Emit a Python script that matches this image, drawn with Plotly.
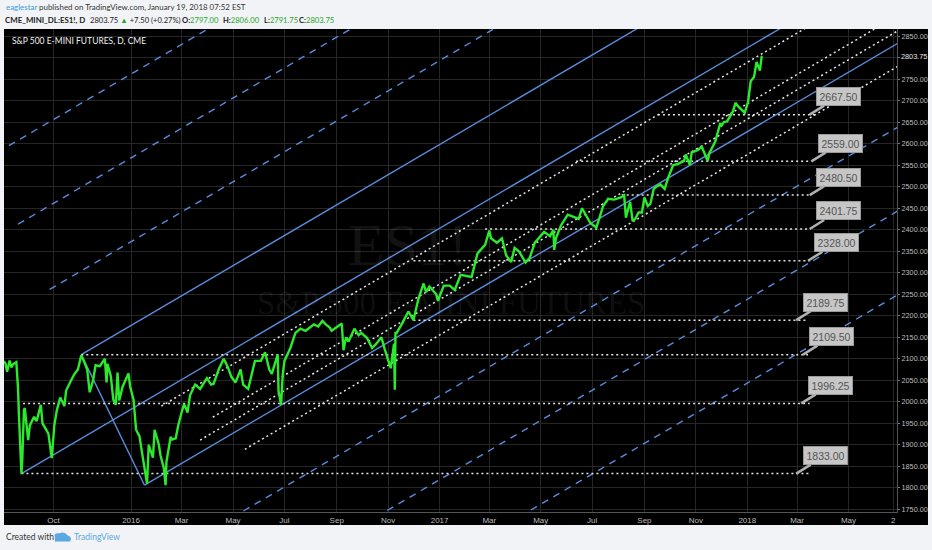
import pandas as pd
import plotly.graph_objects as go

# --- ES1! daily path (about two points a week) ---
price_dates = [
    "2015-08-03", "2015-08-05", "2015-08-07", "2015-08-10", "2015-08-12", "2015-08-14",
    "2015-08-18", "2015-08-19", "2015-08-20", "2015-08-21", "2015-08-24", "2015-08-25",
    "2015-08-26", "2015-08-27", "2015-08-28", "2015-09-01", "2015-09-03", "2015-09-08",
    "2015-09-11", "2015-09-16", "2015-09-18", "2015-09-22", "2015-09-25", "2015-09-29",
    "2015-10-02", "2015-10-05", "2015-10-09", "2015-10-14", "2015-10-16", "2015-10-22",
    "2015-10-26", "2015-10-30", "2015-11-03", "2015-11-06", "2015-11-10", "2015-11-13",
    "2015-11-17", "2015-11-20", "2015-11-25", "2015-12-01", "2015-12-03", "2015-12-04",
    "2015-12-08", "2015-12-11", "2015-12-14", "2015-12-16", "2015-12-18", "2015-12-22",
    "2015-12-29", "2015-12-31", "2016-01-04", "2016-01-07", "2016-01-11", "2016-01-15",
    "2016-01-20", "2016-01-22", "2016-01-27", "2016-01-29", "2016-02-03", "2016-02-05",
    "2016-02-09", "2016-02-11", "2016-02-12", "2016-02-17", "2016-02-19", "2016-02-23",
    "2016-02-26", "2016-03-01", "2016-03-04", "2016-03-08", "2016-03-11", "2016-03-17",
    "2016-03-23", "2016-03-31", "2016-04-05", "2016-04-08", "2016-04-14", "2016-04-20",
    "2016-04-25", "2016-04-29", "2016-05-04", "2016-05-10", "2016-05-13", "2016-05-19",
    "2016-05-24", "2016-05-27", "2016-06-03", "2016-06-08", "2016-06-13", "2016-06-16",
    "2016-06-23", "2016-06-24", "2016-06-27", "2016-06-29", "2016-07-01", "2016-07-08",
    "2016-07-14", "2016-07-20", "2016-07-26", "2016-07-29", "2016-08-05", "2016-08-10",
    "2016-08-15", "2016-08-19", "2016-08-24", "2016-08-26", "2016-09-02", "2016-09-07",
    "2016-09-09", "2016-09-12", "2016-09-15", "2016-09-22", "2016-09-27", "2016-09-30",
    "2016-10-07", "2016-10-13", "2016-10-18", "2016-10-24", "2016-10-28", "2016-11-02",
    "2016-11-04", "2016-11-08", "2016-11-08 22:00", "2016-11-09 16:00", "2016-11-11",
    "2016-11-17", "2016-11-25", "2016-12-01", "2016-12-07", "2016-12-13", "2016-12-16",
    "2016-12-20", "2016-12-28", "2016-12-30", "2017-01-06", "2017-01-13", "2017-01-19",
    "2017-01-26", "2017-02-03", "2017-02-08", "2017-02-15", "2017-02-24", "2017-03-01",
    "2017-03-03", "2017-03-10", "2017-03-16", "2017-03-21", "2017-03-27", "2017-03-31",
    "2017-04-05", "2017-04-13", "2017-04-18", "2017-04-24", "2017-04-28", "2017-05-05",
    "2017-05-12", "2017-05-16", "2017-05-17", "2017-05-19", "2017-05-25", "2017-06-02",
    "2017-06-09", "2017-06-15", "2017-06-19", "2017-06-23", "2017-06-29", "2017-07-06",
    "2017-07-14", "2017-07-20", "2017-07-27", "2017-08-04", "2017-08-08", "2017-08-10",
    "2017-08-15", "2017-08-18", "2017-08-21", "2017-08-25", "2017-08-29", "2017-09-01",
    "2017-09-05", "2017-09-08", "2017-09-12", "2017-09-15", "2017-09-20", "2017-09-25",
    "2017-09-29", "2017-10-05", "2017-10-11", "2017-10-18", "2017-10-20", "2017-10-25",
    "2017-10-27", "2017-11-03", "2017-11-08", "2017-11-15", "2017-11-17", "2017-11-24",
    "2017-11-30", "2017-12-01", "2017-12-04", "2017-12-08", "2017-12-15", "2017-12-18",
    "2017-12-22", "2017-12-29", "2018-01-02", "2018-01-05", "2018-01-09", "2018-01-12",
    "2018-01-16", "2018-01-18", "2018-01-19",
]
price_values = [
    2094, 2090, 2070, 2096, 2080, 2087,
    2092, 2070, 2030, 1972, 1833, 1865,
    1930, 1982, 1985, 1911, 1945, 1965,
    1955, 1993, 1950, 1935, 1926, 1869,
    1945, 1980, 2010, 1990, 2026, 2050,
    2065, 2075, 2108, 2095, 2075, 2022,
    2050, 2085, 2083, 2100, 2045, 2088,
    2060, 2005, 1993, 2068, 2003, 2035,
    2066, 2035, 2005, 1935, 1920, 1870,
    1810, 1900, 1870, 1935, 1900, 1875,
    1845, 1806, 1860, 1918, 1912, 1915,
    1945, 1975, 1995, 1975, 2015, 2040,
    2030, 2055, 2040, 2042, 2075, 2100,
    2080, 2058, 2045, 2075, 2040, 2030,
    2070, 2095, 2095, 2115, 2075, 2065,
    2110, 2025, 1993, 2065, 2095, 2125,
    2160, 2170, 2165, 2170, 2180, 2175,
    2188, 2180, 2172, 2165, 2175, 2182,
    2120, 2150, 2140, 2170, 2155, 2160,
    2148, 2125, 2135, 2150, 2122, 2090,
    2078, 2135, 2028, 2160, 2160,
    2180, 2210, 2190, 2240, 2275, 2255,
    2268, 2250, 2235, 2270, 2270, 2260,
    2295, 2292, 2290, 2345, 2365, 2398,
    2380, 2370, 2380, 2340, 2325, 2358,
    2350, 2324, 2335, 2370, 2380, 2395,
    2385, 2400, 2353, 2380, 2410, 2435,
    2430, 2425, 2450, 2435, 2415, 2405,
    2455, 2472, 2470, 2475, 2480, 2428,
    2465, 2420, 2425, 2440, 2440, 2475,
    2455, 2460, 2495, 2500, 2505, 2495,
    2520, 2550, 2553, 2560, 2575, 2550,
    2580, 2585, 2593, 2560, 2578, 2605,
    2648, 2640, 2650, 2652, 2675, 2695,
    2685, 2672, 2698, 2745, 2755, 2790,
    2770, 2802, 2803.75,
]

# header quote
symbol = "CME_MINI_DL:ES1!, D"
last_price = 2803.75
quote_change = "+7.50 (+0.27%)"
quote_ohlc = [("O", "2797.00"), ("H", "2806.00"), ("L", "2791.75"), ("C", "2803.75")]

# Andrews pitchfork anchors (P1, P2, P3) and the levels drawn, in tine widths
fork_dates = ["2015-08-24", "2015-11-03", "2016-01-17"]
fork_prices = [1833.0, 2109.5, 1806.0]
fork_levels = [-4, -3, -2, -1, 0, 1, 2, 3, 4]

# dotted lines drawn parallel to the fork (start point of each)
par_dates = ["2016-02-06", "2016-04-07", "2016-03-23", "2016-05-15"]
par_prices = [1990.0, 1964.0, 1911.0, 1889.5]

# horizontal levels with their callouts
lvl_prices = [2667.50, 2559.00, 2480.50, 2401.75, 2328.00, 2189.75, 2109.50, 1996.25, 1833.00]
lvl_start = ["2017-09-17", "2017-06-12", "2017-08-05", "2017-02-24", "2016-12-01",
             "2016-12-01", "2015-11-03", "2015-08-26", "2015-08-24"]
lvl_end = ["2018-03-26", "2018-03-18", "2018-03-18", "2018-03-16", "2018-03-16",
           "2018-03-14", "2018-03-14", "2018-03-16", "2018-03-15"]
lvl_tip = ["2018-03-16", "2018-03-18", "2018-03-16", "2018-03-16", "2018-03-14",
           "2018-02-28", "2018-03-08", "2018-03-06", "2018-02-28"]

# axes
x_range = ["2015-08-03 08:00", "2018-06-27 14:00"]
x_tick_vals = ["2015-10-01", "2016-01-01", "2016-03-01", "2016-05-01", "2016-07-01",
               "2016-09-01", "2016-11-01", "2017-01-01", "2017-03-01", "2017-05-01",
               "2017-07-01", "2017-09-01", "2017-11-01", "2018-01-01", "2018-03-01",
               "2018-05-01", "2018-06-23"]
x_tick_text = ["Oct", "2016", "Mar", "May", "Jul", "Sep", "Nov", "2017", "Mar", "May",
               "Jul", "Sep", "Nov", "2018", "Mar", "May", "2"]
y_range = [1743.7, 2866.7]
y_tick_vals = [1750, 1800, 1850, 1900, 1950, 2000, 2050, 2100, 2150, 2200, 2250, 2300,
               2350, 2400, 2450, 2500, 2550, 2600, 2650, 2700, 2750, 2800, 2850]

BLUE = "#5a8cdc"
DOTS = "#e6e6e6"
GREEN = "#2bea2b"
AXIS_FONT = "Liberation Sans"
UI_FONT = "Lato"

# ---- pitchfork geometry ----
t0 = pd.Timestamp(fork_dates[0])
day = lambda d: (pd.Timestamp(d) - t0) / pd.Timedelta(days=1)
to_date = lambda d: t0 + pd.to_timedelta(d, unit="D")

p = [(day(d), v) for d, v in zip(fork_dates, fork_prices)]
mid = ((p[1][0] + p[2][0]) / 2, (p[1][1] + p[2][1]) / 2)
slope = (mid[1] - p[0][1]) / (mid[0] - p[0][0])
RUN = 1400  # days each ray is carried to the right; the axis clips it

fig = go.Figure()


def ray(d0, v0, dash, color, width):
    fig.add_trace(go.Scatter(
        x=[to_date(d0), to_date(d0 + RUN)], y=[v0, v0 + slope * RUN],
        mode="lines", line=dict(color=color, width=width, dash=dash),
        hoverinfo="skip", showlegend=False))


for k in fork_levels:
    if k == 0:
        d0, v0 = p[0]
    else:
        ref = p[1] if k > 0 else p[2]
        d0 = mid[0] + abs(k) * (ref[0] - mid[0])
        v0 = mid[1] + abs(k) * (ref[1] - mid[1])
    ray(d0, v0, "solid" if abs(k) <= 1 else "7px,6px", BLUE, 1.4)

# P2 - P3 handle
fig.add_trace(go.Scatter(
    x=fork_dates[1:], y=fork_prices[1:], mode="lines",
    line=dict(color=BLUE, width=1.4), hoverinfo="skip", showlegend=False))

for d, v in zip(par_dates, par_prices):
    ray(day(d), v, "2px,3px", DOTS, 1.5)

for v, s, e in zip(lvl_prices, lvl_start, lvl_end):
    fig.add_trace(go.Scatter(
        x=[s, e], y=[v, v], mode="lines",
        line=dict(color=DOTS, width=1.5, dash="2px,3px"),
        hoverinfo="skip", showlegend=False))

fig.add_trace(go.Scatter(
    x=price_dates, y=price_values, mode="lines",
    line=dict(color=GREEN, width=2.4), name="ES1!", showlegend=False))

# ---- annotations ----
ann = []
g = "#2aa52a"


def px(x):  # pixel column -> paper x
    return (x - 4) / 893


def head(x, y, text, size=8.5, color="#222222"):
    ann.append(dict(xref="paper", yref="paper", x=px(x), y=y, xanchor="left", yanchor="middle",
                    text=text, showarrow=False, font=dict(family=UI_FONT, size=size, color=color)))


head(4, 1.0455, '<span style="color:#3c98dc">eaglestar</span> published on TradingView.com, January 19, 2018 07:52 EST',
     size=7.9, color="#333333")
# second header line, pieces placed where the reference has them
head(3, 1.0186, "<b>%s</b>" % symbol, size=7.9)
head(88, 1.0186, '%.2f <span style="color:%s">▲</span> %s' % (last_price, g, quote_change), size=7.6)
for x0, (k, v) in zip([180, 221, 262, 297], quote_ohlc):
    head(x0, 1.0186, '<b>%s:</b><span style="color:%s">%s</span>' % (k, g, v), size=7.6)
head(10, 0.975, "S&P 500 E-MINI FUTURES, D, CME", color="#f0f0f0")

# watermark
ann.append(dict(xref="paper", yref="paper", x=0.452, y=0.553, text="ES1!", showarrow=False,
                font=dict(family="Liberation Serif", size=60, color="rgba(255,255,255,0.07)")))
ann.append(dict(xref="paper", yref="paper", x=0.5, y=0.433, text="S&P 500 E-MINI FUTURES",
                showarrow=False, font=dict(family="Liberation Serif", size=33, color="rgba(255,255,255,0.07)")))
# callouts
for v, t in zip(lvl_prices, lvl_tip):
    ann.append(dict(x=t, y=v, text="%.2f" % v, showarrow=True, arrowhead=0, arrowwidth=2.5,
                    arrowcolor="#b0b0b0", ax=29, ay=-18, bgcolor="#c6c6c6", bordercolor="#9a9a9a",
                    borderwidth=1, borderpad=2.5, font=dict(family="Liberation Sans", size=10.5, color="#555555")))
# last price on the scale
ann.append(dict(xref="paper", yref="y", x=1.0025, y=last_price, xanchor="left", yanchor="middle",
                text="%.2f" % last_price, showarrow=False,
                font=dict(family=AXIS_FONT, size=7.3, color="#e8e8e8")))
# footer
head(4, -0.052, "Created with", color="#333333")
head(72, -0.052, "TradingView", color="#5aa9e0")

shapes = [
    dict(type="rect", xref="paper", yref="paper", x0=0, x1=1.0347, y0=-0.0269, y1=1,
         fillcolor="#000000", line=dict(width=0), layer="below"),
    # small cloud logo
    dict(type="path", xref="paper", yref="paper",
         path="M 0.057,-0.061 L 0.074,-0.061 Q 0.077,-0.052 0.071,-0.048 Q 0.068,-0.039 0.062,-0.044 Q 0.055,-0.043 0.057,-0.052 Z",
         fillcolor="#5aa9e0", line=dict(width=0)),
]

ytext = ["" if v == 2800 else "%.2f" % v for v in y_tick_vals]

fig.update_layout(
    width=932, height=550,
    margin=dict(l=4, r=35, t=29, b=38),
    paper_bgcolor="#f1f3f6", plot_bgcolor="#000000",
    annotations=ann, shapes=shapes, showlegend=False,
    xaxis=dict(type="date", range=x_range, tickvals=x_tick_vals, ticktext=x_tick_text,
               showgrid=True, gridcolor="#262626", gridwidth=1, zeroline=False,
               showline=True, linecolor="#555555", ticks="",
               tickfont=dict(family=AXIS_FONT, size=8, color="#bdbdbd")),
    yaxis=dict(side="right", range=y_range, tickvals=y_tick_vals, ticktext=ytext,
               showgrid=True, gridcolor="#262626", gridwidth=1, zeroline=False,
               showline=True, linecolor="#555555", ticks="outside", ticklen=2, tickcolor="#777777",
               tickfont=dict(family=AXIS_FONT, size=7.3, color="#bdbdbd")),
)

fig.write_html("out.html", config={"displayModeBar": False},
               post_script="document.body.style.margin='0';")
